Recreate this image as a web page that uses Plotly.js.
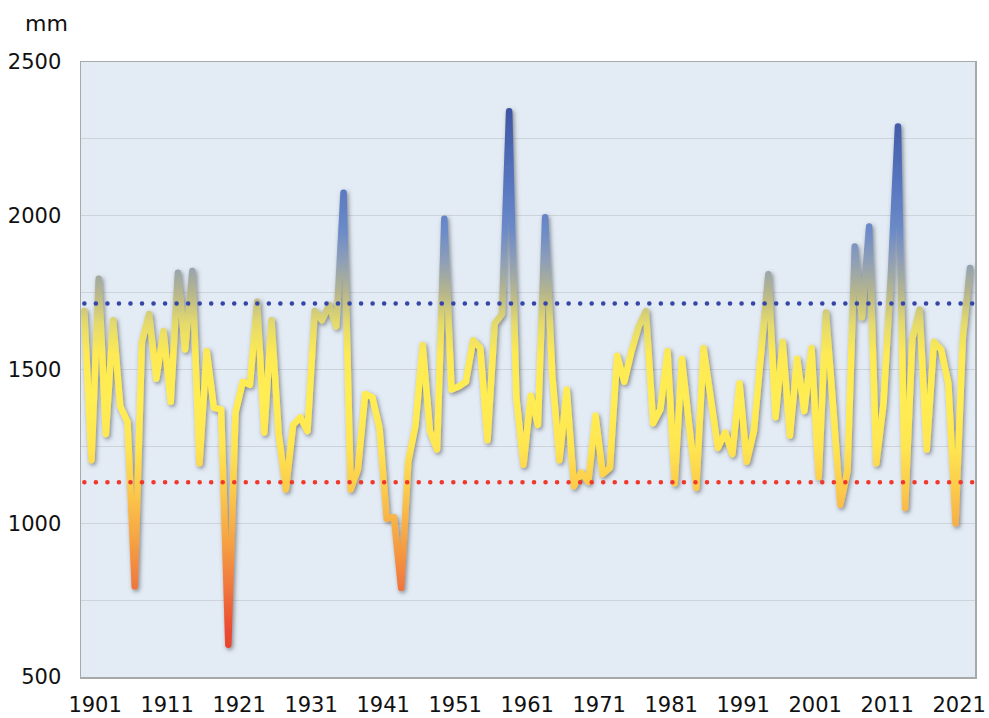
<!DOCTYPE html>
<html>
<head>
<meta charset="utf-8">
<script src="https://cdn.plot.ly/plotly-3.0.1.min.js"></script>
<style>
html,body{margin:0;padding:0;background:#ffffff;}
#chart{width:989px;height:718px;}
</style>
</head>
<body>
<div id="chart"></div>
<script>
// Annual precipitation (mm), one value per year
const years = [1899,1900,1901,1902,1903,1904,1905,1906,1907,1908,1909,1910,1911,1912,1913,1914,1915,1916,1917,1918,1919,1920,
  1921,1922,1923,1924,1925,1926,1927,1928,1929,1930,1931,1932,1933,1934,1935,1936,1937,1938,1939,1940,
  1941,1942,1943,1944,1945,1946,1947,1948,1949,1950,1951,1952,1953,1954,1955,1956,1957,1958,1959,1960,
  1961,1962,1963,1964,1965,1966,1967,1968,1969,1970,1971,1972,1973,1974,1975,1976,1977,1978,1979,1980,
  1981,1982,1983,1984,1985,1986,1987,1988,1989,1990,1991,1992,1993,1994,1995,1996,1997,1998,1999,2000,
  2001,2002,2003,2004,2005,2006,2007,2008,2009,2010,2011,2012,2013,2014,2015,2016,2017,2018,2019,2020,
  2021,2022];
const precipitation = [1690,1205,1795,1290,1660,1380,1330,795,1590,1680,1470,1625,1395,1815,1565,1820,1195,1560,1375,1370,605,1360,
  1460,1450,1720,1295,1660,1290,1110,1320,1345,1300,1690,1660,1710,1640,2075,1110,1175,1420,1410,1310,
  1015,1020,790,1200,1320,1580,1300,1240,1990,1435,1445,1460,1595,1570,1270,1650,1680,2340,1410,1190,
  1415,1320,1995,1480,1205,1435,1120,1165,1135,1350,1160,1180,1545,1460,1560,1640,1690,1325,1370,1560,
  1130,1535,1320,1115,1570,1400,1245,1295,1225,1455,1200,1300,1540,1810,1345,1590,1285,1535,1365,1570,
  1150,1685,1380,1060,1170,1900,1670,1965,1195,1390,1800,2290,1050,1600,1695,1240,1590,1565,1455,1000,
  1600,1830];
// Reference levels (dotted lines)
const upperLevel = 1715;
const lowerLevel = 1133;
// Axis ticks
const xTickYears = [1901,1911,1921,1931,1941,1951,1961,1971,1981,1991,2001,2011,2021];
const yTickValues = [500,750,1000,1250,1500,1750,2000,2250,2500];
const yTickLabels = ['500','','1000','','1500','','2000','','2500'];
const unitLabel = 'mm';
// Colour ramp of the line by precipitation value
const rampValues = [500,650,800,950,1100,1250,1400,1550,1650,1750,1850,1950,2100,2350,2500];
const rampColors = ['#e63a28','#ea4b30','#f07a3e','#f6a443','#fbc84b','#ffe651','#ffed52','#fdea54','#e4da6c','#b6b68c','#8f9fb6','#6c8bc8','#5877c0','#3f55a2','#3a4d9b'];

// points plotted at the middle of each year
const xMid = years.map(y => y + 0.5);

const gd = document.getElementById('chart');
const fontFamily = 'DejaVu Sans, Liberation Sans, Arial, sans-serif';

const data = [{
  type: 'scatter',
  mode: 'lines',
  x: xMid,
  y: precipitation,
  line: {color: '#ffe651', width: 6.5},
  hoverinfo: 'skip',
  showlegend: false
}];

const layout = {
  width: 989,
  height: 718,
  margin: {l: 81, r: 14, t: 62, b: 41, autoexpand: false},
  paper_bgcolor: '#ffffff',
  plot_bgcolor: '#e3ebf4',
  font: {family: fontFamily, size: 21, color: '#111111'},
  showlegend: false,
  xaxis: {
    type: 'linear',
    range: [1899.04, 2023.2],
    tickmode: 'array',
    tickvals: xTickYears,
    ticktext: xTickYears.map(String),
    showgrid: false,
    zeroline: false,
    showline: true,
    mirror: true,
    linecolor: '#a9a9a9',
    linewidth: 1.5,
    ticks: '',
    ticklabelstandoff: 8,
    tickfont: {family: fontFamily, size: 21, color: '#111111'},
    automargin: false
  },
  yaxis: {
    range: [500, 2500],
    tickmode: 'array',
    tickvals: yTickValues,
    ticktext: yTickLabels,
    showgrid: true,
    gridcolor: '#cdd3db',
    gridwidth: 1,
    zeroline: false,
    showline: true,
    mirror: true,
    linecolor: '#a9a9a9',
    linewidth: 1.5,
    ticks: '',
    ticklabelstandoff: 14,
    tickfont: {family: fontFamily, size: 21, color: '#111111'},
    automargin: false
  },
  shapes: [
    {type: 'line', xref: 'paper', x0: 0.0037, x1: 1, yref: 'y', y0: upperLevel, y1: upperLevel,
     line: {color: '#3545a8', width: 4.5, dash: '0.1px,11.43px'}, layer: 'above'},
    {type: 'line', xref: 'paper', x0: 0.0037, x1: 1, yref: 'y', y0: lowerLevel, y1: lowerLevel,
     line: {color: '#f0392c', width: 4.5, dash: '0.1px,11.43px'}, layer: 'above'}
  ],
  annotations: [
    {text: unitLabel, xref: 'paper', yref: 'paper', x: -0.039, y: 1.063, xanchor: 'center', yanchor: 'middle',
     showarrow: false, font: {family: fontFamily, size: 22, color: '#111111'}}
  ]
};

Plotly.newPlot(gd, data, layout, {staticPlot: true, displayModeBar: false}).then(function () {
  const ns = 'http://www.w3.org/2000/svg';
  const svg = gd.querySelector('svg.main-svg');
  let defs = svg.querySelector('defs');
  if (!defs) { defs = document.createElementNS(ns, 'defs'); svg.insertBefore(defs, svg.firstChild); }
  const ya = gd._fullLayout.yaxis;
  const yTop = ya.c2p(rampValues[rampValues.length - 1]);
  const yBot = ya.c2p(rampValues[0]);

  const grad = document.createElementNS(ns, 'linearGradient');
  grad.setAttribute('id', 'precipGrad');
  grad.setAttribute('gradientUnits', 'userSpaceOnUse');
  grad.setAttribute('x1', '0'); grad.setAttribute('x2', '0');
  grad.setAttribute('y1', String(yTop)); grad.setAttribute('y2', String(yBot));
  for (let k = rampValues.length - 1; k >= 0; k--) {
    const st = document.createElementNS(ns, 'stop');
    const off = (ya.c2p(rampValues[k]) - yTop) / (yBot - yTop);
    st.setAttribute('offset', String(off));
    st.setAttribute('stop-color', rampColors[k]);
    grad.appendChild(st);
  }
  defs.appendChild(grad);

  const filt = document.createElementNS(ns, 'filter');
  filt.setAttribute('id', 'lineShadow');
  filt.setAttribute('x', '-10%'); filt.setAttribute('y', '-10%');
  filt.setAttribute('width', '120%'); filt.setAttribute('height', '120%');
  const sh = document.createElementNS(ns, 'feDropShadow');
  sh.setAttribute('dx', '1.5'); sh.setAttribute('dy', '2');
  sh.setAttribute('stdDeviation', '2.2');
  sh.setAttribute('flood-color', '#4c5158');
  sh.setAttribute('flood-opacity', '0.65');
  filt.appendChild(sh);
  defs.appendChild(filt);

  const linePath = gd.querySelector('.scatterlayer .trace path.js-line');
  if (linePath) {
    linePath.style.stroke = 'url(#precipGrad)';
    linePath.style.strokeLinejoin = 'round';
    linePath.style.strokeLinecap = 'round';
    linePath.setAttribute('filter', 'url(#lineShadow)');
  }
  gd.querySelectorAll('.shapelayer path').forEach(function (p) {
    p.style.strokeLinecap = 'round';
  });
});
</script>
</body>
</html>
